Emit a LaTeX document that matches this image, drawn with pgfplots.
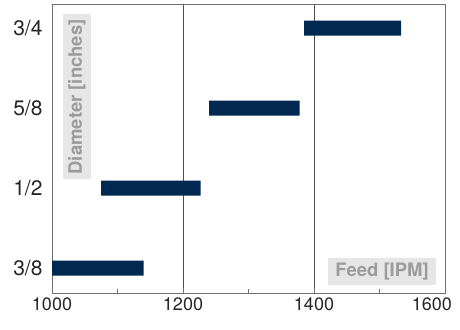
\documentclass[border=0pt]{standalone}
\usepackage{fontspec}
\setmainfont{TeX Gyre Heros}
\usepackage{pgfplots}
\pgfplotsset{compat=1.18}
\definecolor{barblue}{HTML}{002850}
\definecolor{boxgray}{HTML}{E6E6E7}
\definecolor{labgray}{HTML}{9B9B9B}
\definecolor{framegray}{HTML}{707070}
\begin{document}
\begin{tikzpicture}
\begin{axis}[
  name=ax,
  scale only axis,
  width=393pt, height=289pt,
  xmin=1000, xmax=1600,
  ymin=-0.31, ymax=3.3,
  xtick={1000,1200,1400,1600},
  xticklabels={1000,1200,1400,{\makebox[0pt][r]{1600\hspace{-7pt}}}},
  minor xtick={1100,1300,1500},
  ytick={0,1,2,3},
  yticklabels={3/8,1/2,5/8,3/4},
  xmajorgrids,
  grid style={draw=black!70, line width=0.8pt},
  axis line style={draw=framegray, line width=0.9pt},
  tick style={draw=framegray, line width=0.8pt},
  major tick length=5pt, minor tick length=4pt,
  xtick pos=bottom, ytick style={draw=none},
  tick label style={text=black!85},
  xticklabel style={font=\fontsize{18}{21}\selectfont, yshift=-1pt},
  yticklabel style={font=\fontsize{21}{24}\selectfont, xshift=-6pt},
  xbar stacked, bar width=15pt,
]
\addplot[draw=none, fill=none] coordinates {(1000,0) (1075,1) (1240,2) (1385,3)};
\addplot[draw=none, fill=barblue] coordinates {(140,0) (152,1) (138,2) (148,3)};
\node[fill=boxgray, text=labgray, rotate=90, anchor=north east, font=\fontsize{18.5}{21}\selectfont\bfseries, inner xsep=5pt, inner ysep=5pt]
  at (rel axis cs:0.028,0.965) {Diameter [inches]};
\node[fill=boxgray, text=labgray, anchor=south east, font=\fontsize{18.5}{21}\selectfont\bfseries, inner xsep=7pt, inner ysep=5pt]
  at (rel axis cs:0.977,0.028) {Feed [IPM]};
\end{axis}
\path ([xshift=-52pt,yshift=-36pt]ax.south west) rectangle ([xshift=15pt,yshift=4pt]ax.north east);
\end{tikzpicture}
\end{document}
